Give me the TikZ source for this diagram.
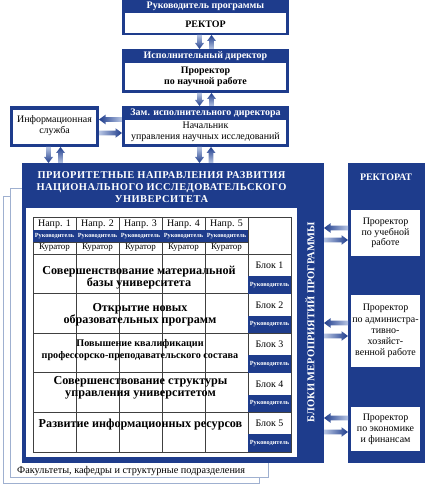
\documentclass[tikz,border=0pt]{standalone}
\usepackage{fontspec}
\setmainfont{Liberation Serif}
\usetikzlibrary{calc}
\definecolor{nb}{HTML}{1E3C8C}
\definecolor{lb}{HTML}{B8C6E4}
\definecolor{pg}{HTML}{9FB0D0}
\newcommand\myfs[2]{\fontsize{#1}{#2}\selectfont}
% block arrows: #1 tail, #2 head
\newcommand\arrR[2]{\shade[left color=lb,right color=nb] let \p1=#1,\p2=#2 in
  (\x1,{\y1+2.3bp}) -- ({\x2-6.5bp},{\y1+2.3bp}) -- ({\x2-6.5bp},{\y1+4.8bp}) -- (\x2,\y1)
  -- ({\x2-6.5bp},{\y1-4.8bp}) -- ({\x2-6.5bp},{\y1-2.3bp}) -- (\x1,{\y1-2.3bp}) -- cycle;}
\newcommand\arrL[2]{\shade[left color=nb,right color=lb] let \p1=#1,\p2=#2 in
  (\x1,{\y1+2.3bp}) -- ({\x2+6.5bp},{\y1+2.3bp}) -- ({\x2+6.5bp},{\y1+4.8bp}) -- (\x2,\y1)
  -- ({\x2+6.5bp},{\y1-4.8bp}) -- ({\x2+6.5bp},{\y1-2.3bp}) -- (\x1,{\y1-2.3bp}) -- cycle;}
\newcommand\arrD[2]{\shade[top color=lb,bottom color=nb] let \p1=#1,\p2=#2 in
  ({\x1-2.3bp},\y1) -- ({\x1-2.3bp},{\y2+6bp}) -- ({\x1-4.5bp},{\y2+6bp}) -- (\x1,\y2)
  -- ({\x1+4.5bp},{\y2+6bp}) -- ({\x1+2.3bp},{\y2+6bp}) -- ({\x1+2.3bp},\y1) -- cycle;}
\newcommand\arrU[2]{\shade[top color=nb,bottom color=lb] let \p1=#1,\p2=#2 in
  ({\x1-2.3bp},\y1) -- ({\x1-2.3bp},{\y2-6bp}) -- ({\x1-4.5bp},{\y2-6bp}) -- (\x1,\y2)
  -- ({\x1+4.5bp},{\y2-6bp}) -- ({\x1+2.3bp},{\y2-6bp}) -- ({\x1+2.3bp},\y1) -- cycle;}
\tikzset{
  bluebox/.style={fill=nb, inner sep=0, outer sep=0, anchor=north west},
  whitebox/.style={fill=white, inner sep=0, outer sep=0, anchor=north west},
  pagebox/.style={draw=pg, line width=1.2bp, fill=white},
  hdr/.style={text=white, font=\bfseries\myfs{10}{11}, inner sep=0},
  txt/.style={font=\myfs{10}{11}, align=center, inner sep=0},
  btxt/.style={font=\bfseries\myfs{10}{11}, align=center, inner sep=0},
  rowtxt/.style={font=\bfseries\myfs{12.2}{12}, align=center, inner sep=0},
  cell/.style={font=\myfs{9}{10}, inner sep=0},
  rukcell/.style={text=white, font=\bfseries\myfs{6.3}{7}, inner sep=0},
  grid/.style={draw=black!75, line width=0.7bp},
}
\begin{document}
\begin{tikzpicture}[x=1bp,y=-1bp]
\useasboundingbox (0,0) rectangle (425,486);
\fill[white] (0,0) rectangle (425,486);

% --- top chain ---
\node[bluebox, minimum width=167bp, minimum height=35bp] (b1) at (122,0) {};
\node[whitebox, minimum width=161bp, minimum height=20bp] (b1w) at (125,13) {};
\node[hdr] (t1) at (205.5,6.5) {Руководитель программы};
\node[btxt] (t1b) at (205.5,24) {РЕКТОР};

\node[bluebox, minimum width=167bp, minimum height=44bp] (b2) at (122,49) {};
\node[whitebox, minimum width=161bp, minimum height=27bp] (b2w) at (125,63) {};
\node[hdr] (t2) at (205.5,56) {Исполнительный директор};
\node[btxt] (t2b) at (205.5,76.5) {Проректор\\по научной работе};

\node[bluebox, minimum width=167bp, minimum height=41bp] (b3) at (122,106) {};
\node[whitebox, minimum width=161bp, minimum height=24bp] (b3w) at (125,120) {};
\node[hdr] (t3) at (205.5,113) {Зам. исполнительного директора};
\node[txt] (t3b) at (205.5,131.5) {Начальник\\управления научных исследований};

\node[bluebox, minimum width=89bp, minimum height=41bp] (inf) at (10,106) {};
\node[whitebox, minimum width=83bp, minimum height=34bp] (infw) at (13,110) {};
\node[txt] (inft) at (54.5,126) {Информационная\\служба};

% --- stacked pages ---
\node[pagebox, inner sep=0, anchor=north west, minimum width=256bp, minimum height=287bp] (pg2) at (3,196) {};
\node[pagebox, inner sep=0, anchor=north west, minimum width=258bp, minimum height=289bp] (pg1) at (10,188) {};
\node[txt, font=\myfs{10.3}{11}, anchor=west] (fac) at (17,471) {Факультеты, кафедры и структурные подразделения};

% --- main box ---
\node[bluebox, minimum width=302bp, minimum height=300bp] (main) at (22,163) {};
\node[whitebox, minimum width=271bp, minimum height=249bp] (mainw) at (26,208) {};
\node[text=white, font=\bfseries\myfs{10.5}{11.7}\addfontfeature{LetterSpace=4.5}, align=center, inner sep=0] (mt) at (161.5,187)
  {ПРИОРИТЕТНЫЕ НАПРАВЛЕНИЯ РАЗВИТИЯ\\НАЦИОНАЛЬНОГО ИССЛЕДОВАТЕЛЬСКОГО\\УНИВЕРСИТЕТА};
\node[text=white, font=\bfseries\myfs{10.5}{11}, rotate=90, inner sep=0] (vt) at (310,322)
  {БЛОКИ МЕРОПРИЯТИЙ ПРОГРАММЫ};

% table
\foreach \x in {76,119,162,205,248} \draw[grid] (\x,217) -- (\x,452);
\foreach \y in {254,293.5,333,372.5,412} \draw[grid] (33,\y) -- (291,\y);
\draw[grid] (33,230) -- (248,230);
\draw[grid] (33,242) -- (248,242);
\draw[grid] (33,217) rectangle (291,452);
\fill[nb] (33,230) rectangle (248,242);
\foreach \i/\x in {1/54.5,2/97.5,3/140.5,4/183.5,5/226.5} {
  \node[cell, font=\myfs{10}{10}] (n\i) at (\x,224) {Напр. \i};
  \node[rukcell] (r\i) at (\x,236.2) {Руководитель};
  \node[cell] (k\i) at (\x,248) {Куратор};
}
\foreach \i/\yt/\yb in {1/254/293.5,2/293.5/333,3/333/372.5,4/372.5/412,5/412/452} {
  \fill[nb] (248,\yt+22) rectangle (291,\yb);
  \node[cell, font=\myfs{10}{10}] (bl\i) at (269.5,\yt+11.5) {Блок \i};
  \node[rukcell] (br\i) at (269.5,{(\yt+22+\yb)/2}) {Руководитель};
}
\node[rowtxt] (row1) at (139,278) {Совершенствование материальной\\базы университета};
\node[rowtxt] (row2) at (140,315) {Открытие новых\\образовательных программ};
\node[rowtxt, font=\bfseries\myfs{10.2}{12}] (row3) at (140,350) {Повышение квалификации\\профессорско-преподавательского состава};
\node[rowtxt] (row4) at (140.5,387.5) {Совершенствование структуры\\управления университетом};
\node[rowtxt] (row5) at (140.5,425) {Развитие информационных ресурсов};

% --- rectorate ---
\node[bluebox, minimum width=77bp, minimum height=300bp] (rekt) at (348,163) {};
\node[hdr, font=\bfseries\myfs{10}{11}] (rt) at (386,177.5) {РЕКТОРАТ};
\node[whitebox, minimum width=69bp, minimum height=46bp] (rp1) at (351,210) {};
\node[whitebox, minimum width=69bp, minimum height=72bp] (rp2) at (351,295) {};
\node[whitebox, minimum width=69bp, minimum height=44bp] (rp3) at (351,407) {};
\node[txt, font=\myfs{10}{10.5}] (rp1t) at (rp1.center) {Проректор\\по учебной\\работе};
\node[txt, font=\myfs{10}{11.2}] (rp2t) at (rp2.center) {Проректор\\по администра-\\тивно-\\хозяйст-\\венной работе};
\node[txt, font=\myfs{10}{11}] (rp3t) at (rp3.center) {Проректор\\по экономике\\и финансам};

% --- arrows ---
\arrD{($(b1.south)+(-6,0)$)}{($(b2.north)+(-6,0)$)}
\arrU{($(b2.north)+(6,0)$)}{($(b1.south)+(6,0)$)}
\arrD{($(b2.south)+(-6,0)$)}{($(b3.north)+(-6,0)$)}
\arrU{($(b3.north)+(6,0)$)}{($(b2.south)+(6,0)$)}
\arrD{($(b3.south)+(-6,0)$)}{($(main.north)+(26,0)$)}
\arrU{($(main.north)+(38,0)$)}{($(b3.south)+(6,0)$)}
\arrD{($(inf.south)+(-6,0)$)}{($(main.north west)+(26.5,0)$)}
\arrU{($(main.north west)+(38.5,0)$)}{($(inf.south)+(6,0)$)}
\arrL{($(b3.west)+(0,-7)$)}{($(inf.east)+(0,-7)$)}
\arrR{($(inf.east)+(0,6.5)$)}{($(b3.west)+(0,6.5)$)}
\arrL{($(rekt.west |- rp1.west)+(0,-5)$)}{($(main.east |- rp1.west)+(0,-5)$)}
\arrR{($(main.east |- rp1.west)+(0,7)$)}{($(rekt.west |- rp1.west)+(0,7)$)}
\arrL{($(rekt.west |- rp2.west)+(0,-8)$)}{($(main.east |- rp2.west)+(0,-8)$)}
\arrR{($(main.east |- rp2.west)+(0,5)$)}{($(rekt.west |- rp2.west)+(0,5)$)}
\arrL{($(rekt.west |- rp3.west)+(0,-11)$)}{($(main.east |- rp3.west)+(0,-11)$)}
\arrR{($(main.east |- rp3.west)+(0,3)$)}{($(rekt.west |- rp3.west)+(0,3)$)}
\end{tikzpicture}
\end{document}
